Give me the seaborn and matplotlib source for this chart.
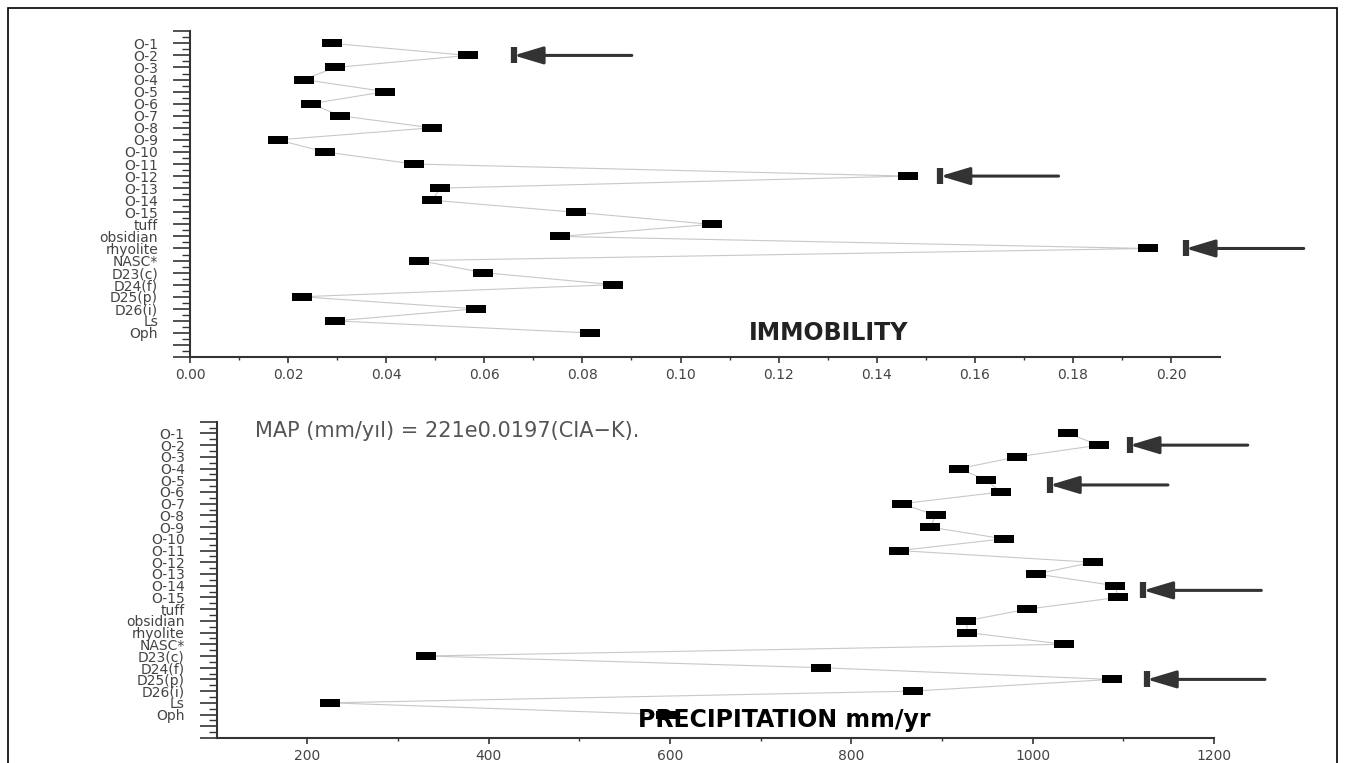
import numpy as np
import pandas as pd
import matplotlib.pyplot as plt
import seaborn as sns
from matplotlib.patches import Rectangle


samples = ['O-1', 'O-2', 'O-3', 'O-4', 'O-5', 'O-6', 'O-7', 'O-8', 'O-9', 'O-10',
           'O-11', 'O-12', 'O-13', 'O-14', 'O-15', 'tuff', 'obsidian', 'rhyolite',
           'NASC*', 'D23(c)', 'D24(f)', 'D25(p)', 'D26(i)', 'Ls', 'Oph']
immobility = [0.0289, 0.0567, 0.0296, 0.0232, 0.0398, 0.0247, 0.0306, 0.0493, 0.0179, 0.0275,
              0.0457, 0.1463, 0.0510, 0.0494, 0.0786, 0.1064, 0.0754, 0.1953,
              0.0467, 0.0598, 0.0863, 0.0228, 0.0583, 0.0296, 0.0816]
precipitation = [1039, 1073, 983, 919, 949, 965, 856, 893, 887, 968,
                 853, 1066, 1004, 1091, 1094, 994, 927, 928,
                 1035, 331, 767, 1087, 868, 225, 596]

# arrows: row position and where the arrow head sits
top_arrow_rows = [1, 11, 17]
top_arrow_x = [0.066, 0.153, 0.203]
bottom_arrow_rows = [1, 4.4, 13.4, 21]
bottom_arrow_x = [1107, 1019, 1122, 1126]

sns.set_style('ticks')
plt.rcParams['font.family'] = ['DejaVu Sans']

df = pd.DataFrame({'sample': samples, 'pos': np.arange(len(samples)),
                   'immobility': immobility, 'precipitation': precipitation})

fig = plt.figure(figsize=(13.45, 7.63), dpi=100)
ax1 = fig.add_axes([0.1413, 0.532, 0.7658, 0.427])
ax2 = fig.add_axes([0.1611, 0.0328, 0.7415, 0.4145])

# flat black box marker
box = [(-1, -0.42), (1, -0.42), (1, 0.42), (-1, 0.42), (-1, -0.42)]


def draw_panel(ax, col, xlim, major, minor, fmt, arrow_rows, arrow_x):
    sns.lineplot(data=df, x=col, y='pos', sort=False, estimator=None, orient='y', ax=ax,
                 color='#c8c8c8', linewidth=0.8, marker=box, markersize=14,
                 markerfacecolor='black', markeredgecolor='black', markeredgewidth=0)
    ax.set_xlim(*xlim)
    ax.set_ylim(26, -1)
    ax.set_xlabel('')
    ax.set_ylabel('')
    ax.set_yticks(range(-1, 27))
    ax.set_yticklabels([''] + samples + ['', ''])
    ax.set_yticks(np.arange(-0.5, 26, 1), minor=True)
    ax.set_xticks(major)
    ax.set_xticklabels([fmt % v for v in major])
    ax.set_xticks(minor, minor=True)
    ax.tick_params(axis='y', which='major', length=12, width=1.2, pad=11,
                   labelsize=10, labelcolor='#444', color='#333')
    ax.tick_params(axis='y', which='minor', length=6, width=1.0, color='#333')
    ax.tick_params(axis='x', which='major', length=4, width=1.2, pad=4,
                   labelsize=10, labelcolor='#444', color='#333')
    ax.tick_params(axis='x', which='minor', length=2, width=1.0, color='#333')
    for s in ['top', 'right']:
        ax.spines[s].set_visible(False)
    for s in ['left', 'bottom']:
        ax.spines[s].set_color('#333')
        ax.spines[s].set_linewidth(1.5)
    for r, x in zip(arrow_rows, arrow_x):
        ax.annotate('', xy=(x, r), xytext=(85, 0), textcoords='offset points',
                    arrowprops=dict(arrowstyle='-|>,head_length=0.9,head_width=0.27',
                                    mutation_scale=20, color='#333', lw=2.2,
                                    shrinkA=0, shrinkB=0),
                    annotation_clip=False)
        ax.plot([x], [r], marker='|', markersize=11, mew=4.5, color='#333', clip_on=False)


draw_panel(ax1, 'immobility', (0, 0.21), np.arange(0, 0.201, 0.02),
           np.arange(0.01, 0.21, 0.02), '%.2f', top_arrow_rows, top_arrow_x)
draw_panel(ax2, 'precipitation', (100, 1200), np.arange(200, 1201, 200),
           np.arange(300, 1200, 200), '%d', bottom_arrow_rows, bottom_arrow_x)

ax1.text(0.543, 0.074, 'IMMOBILITY', transform=ax1.transAxes, fontsize=17,
         fontweight='bold', color='#222', va='center', ha='left')
ax2.text(0.038, 0.972, 'MAP (mm/yıl) = 221e0.0197(CIA\u2212K).', transform=ax2.transAxes,
         fontsize=15, color='#555', va='center', ha='left')
ax2.text(0.4224, 0.057, 'PRECIPITATION mm/yr', transform=ax2.transAxes, fontsize=17,
         fontweight='bold', color='black', va='center', ha='left')

# thin frame around the picture
fig.add_artist(Rectangle((8 / 1345, -0.01), 1329 / 1345, 0.999, transform=fig.transFigure,
                         fill=False, edgecolor='black', linewidth=1.2))

fig.savefig('out.png', dpi=100)
